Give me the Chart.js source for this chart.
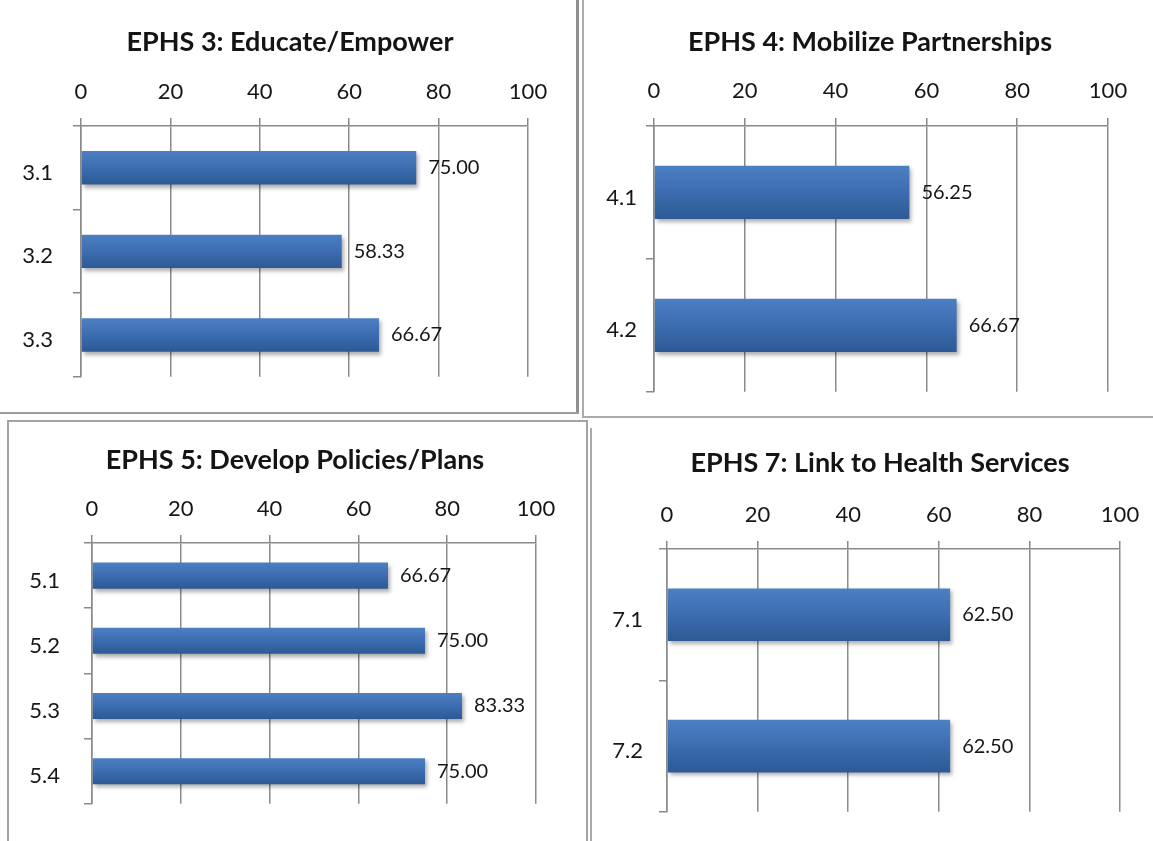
<!DOCTYPE html>
<html><head><meta charset="utf-8">
<script src="https://cdn.jsdelivr.net/npm/chart.js@4.4.1/dist/chart.umd.min.js"></script>
<style>
html,body{margin:0;padding:0;background:#fff;overflow:hidden;width:1153px;height:841px;position:relative;}
canvas{position:absolute;}
.ln{position:absolute;}
</style></head><body>
<div class="ln" style="left:576px;top:0;width:3px;height:414px;background:#8f8f8f"></div>
<div class="ln" style="left:582px;top:0;width:2px;height:418px;background:#ababab"></div>
<div class="ln" style="left:0;top:412px;width:579px;height:2px;background:#9c9c9c"></div>
<div class="ln" style="left:582px;top:416px;width:571px;height:2px;background:#ababab"></div>
<div class="ln" style="left:7px;top:420px;width:581px;height:440px;border:2px solid #a3a3a3;box-sizing:border-box"></div>
<div class="ln" style="left:590px;top:428px;width:2px;height:413px;background:#ababab"></div>
<canvas id="c1"></canvas><canvas id="c2"></canvas><canvas id="c3"></canvas><canvas id="c4"></canvas>
<script>
// ---- data ----
const titles = ['EPHS 3: Educate/Empower', 'EPHS 4: Mobilize Partnerships', 'EPHS 5: Develop Policies/Plans', 'EPHS 7: Link to Health Services'];
const ephs3Categories = ['3.1', '3.2', '3.3'];
const ephs3Values = [75.00, 58.33, 66.67];
const ephs4Categories = ['4.1', '4.2'];
const ephs4Values = [56.25, 66.67];
const ephs5Categories = ['5.1', '5.2', '5.3', '5.4'];
const ephs5Values = [66.67, 75.00, 83.33, 75.00];
const ephs7Categories = ['7.1', '7.2'];
const ephs7Values = [62.50, 62.50];
const axisMin = 0, axisMax = 100, axisStep = 20;

// ---- styles / geometry ----
const FONT = 'Lato, "Open Sans", sans-serif';
const TITLE_SIZE = 27, TICK_SIZE = 22, CAT_SIZE = 22, VAL_SIZE = 20, TL = 8;
const GRID = '#8a8a8a';
const TEXT = '#161616';
const layouts = [
  {id:'c1', L:0,   T:0,   W:575, H:410, x0:81,  x100:528,  yTop:126, yBot:396, tcx:290, tcy:42,  tickY:92,  catPad:20, catOff:5},
  {id:'c2', L:585, T:0,   W:568, H:414, x0:654, x100:1108, yTop:126, yBot:396, tcx:870, tcy:42,  tickY:91,  catPad:9,  catOff:5},
  {id:'c3', L:10,  T:423, W:574, H:418, x0:92,  x100:536,  yTop:543, yBot:814, tcx:295, tcy:460, tickY:509, catPad:24, catOff:5},
  {id:'c4', L:593, T:423, W:560, H:418, x0:667, x100:1120, yTop:549, yBot:823, tcx:880, tcy:463, tickY:515, catPad:16, catOff:5}
];
const BAR_PCT = 0.4;

function gradFn(ctx) {
  const chart = ctx.chart; const ys = chart.scales && chart.scales.y;
  if (ctx.type !== 'data' || !ys || !chart.chartArea) return '#3b6cae';
  const c = ys.getPixelForValue(ctx.dataIndex);
  const half = ys.height / chart.data.labels.length * BAR_PCT / 2;
  const g = chart.ctx.createLinearGradient(0, c - half, 0, c + half);
  g.addColorStop(0, '#4c80c3');
  g.addColorStop(0.5, '#3c6db0');
  g.addColorStop(1, '#2d5995');
  return g;
}
const shadowPlugin = {
  id: 'barShadow',
  beforeDatasetsDraw(chart) { const c = chart.ctx; c.save(); c.shadowColor = 'rgba(0,0,0,0.32)'; c.shadowBlur = 4; c.shadowOffsetX = 2; c.shadowOffsetY = 3; },
  afterDatasetsDraw(chart) { chart.ctx.restore(); }
};
const valueLabelPlugin = {
  id: 'valueLabels',
  afterDatasetsDraw(chart) {
    const ctx = chart.ctx; const meta = chart.getDatasetMeta(0); const ds = chart.data.datasets[0];
    ctx.save();
    ctx.font = VAL_SIZE + 'px ' + FONT; ctx.fillStyle = TEXT; ctx.textAlign = 'left'; ctx.textBaseline = 'middle';
    meta.data.forEach((el, i) => { ctx.fillText(ds.data[i].toFixed(2), el.x + 12, el.y); });
    ctx.restore();
  }
};
const panelTitlePlugin = {
  id: 'panelTitle',
  afterDraw(chart, args, opts) {
    const ctx = chart.ctx;
    ctx.save();
    ctx.font = 'bold ' + TITLE_SIZE + 'px ' + FONT; ctx.fillStyle = '#141414';
    ctx.textAlign = 'center'; ctx.textBaseline = 'middle';
    ctx.fillText(opts.text, opts.x, opts.y);
    ctx.restore();
  }
};

function makeChart(g, title, cats, vals) {
  const cv = document.getElementById(g.id);
  cv.width = g.W; cv.height = g.H;
  cv.style.left = g.L + 'px'; cv.style.top = g.T + 'px';
  const xAxisH = g.yTop - g.T;
  const padR = g.L + g.W - g.x100;
  const yAxisW = g.x0 - g.L;
  const padB = g.T + g.H - g.yBot;
  const tickPad = g.yTop - TL - TICK_SIZE * 1.2 / 2 - g.tickY;
  return new Chart(cv, {
    type: 'bar',
    data: { labels: cats, datasets: [{ data: vals, backgroundColor: gradFn, borderWidth: 0, categoryPercentage: BAR_PCT, barPercentage: 1 }] },
    options: {
      indexAxis: 'y', responsive: false, animation: false, devicePixelRatio: 1,
      layout: { padding: { left: 0, right: padR, top: 0, bottom: padB } },
      plugins: {
        legend: { display: false }, tooltip: { enabled: false }, title: { display: false },
        panelTitle: { text: title, x: g.tcx - g.L, y: g.tcy - g.T }
      },
      scales: {
        x: {
          position: 'top', min: axisMin, max: axisMax,
          ticks: { stepSize: axisStep, color: TEXT, font: { family: FONT, size: TICK_SIZE, lineHeight: 1.2 }, padding: tickPad, maxRotation: 0 },
          grid: { color: GRID, lineWidth: 1.5, tickLength: TL, drawTicks: true },
          border: { color: GRID, width: 1.5 },
          afterFit: (s) => { s.height = xAxisH; }
        },
        y: {
          ticks: { color: TEXT, font: { family: FONT, size: CAT_SIZE }, padding: g.catPad, labelOffset: g.catOff },
          grid: { offset: true, drawOnChartArea: false, tickLength: TL, color: GRID, lineWidth: 1.5 },
          border: { color: GRID, width: 1.5 },
          afterFit: (s) => { s.width = yAxisW; }
        }
      }
    },
    plugins: [shadowPlugin, valueLabelPlugin, panelTitlePlugin]
  });
}

function drawAll() {
  makeChart(layouts[0], titles[0], ephs3Categories, ephs3Values);
  makeChart(layouts[1], titles[1], ephs4Categories, ephs4Values);
  makeChart(layouts[2], titles[2], ephs5Categories, ephs5Values);
  makeChart(layouts[3], titles[3], ephs7Categories, ephs7Values);
}
Promise.all([document.fonts.load('bold 27px Lato'), document.fonts.load('22px Lato')]).then(drawAll, drawAll);
</script>
</body></html>
